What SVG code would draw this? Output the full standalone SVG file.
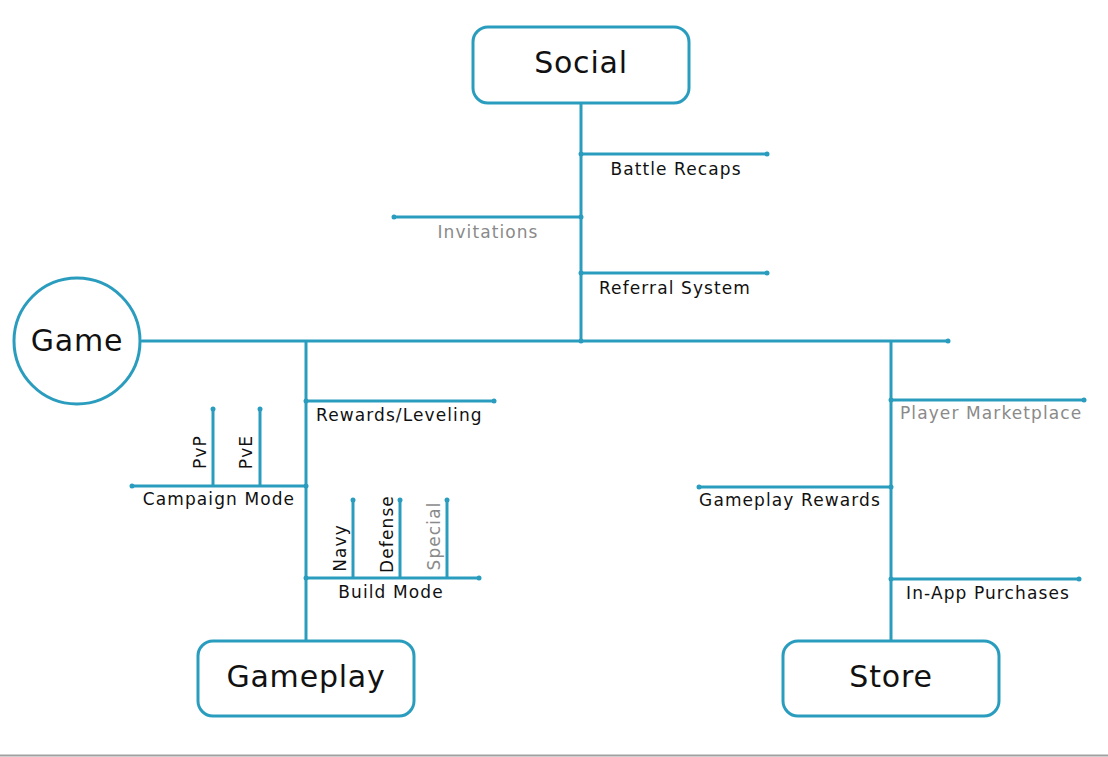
<svg xmlns="http://www.w3.org/2000/svg" width="1108" height="757" viewBox="0 0 1108 757">
<style>
.ln{stroke:#2a9dbf;stroke-width:3;fill:none;stroke-linecap:round}
.dot{fill:#2a9dbf}
.node{fill:#fff;stroke:#2a9dbf;stroke-width:3}
.t{font-family:"DejaVu Sans","Liberation Sans",sans-serif;font-size:17px;letter-spacing:1.1px;fill:#111}
.g{fill:#8a8a8a}
.big{font-family:"DejaVu Sans","Liberation Sans",sans-serif;font-size:30px;letter-spacing:0.8px;fill:#111;text-anchor:middle}
</style>
<rect width="1108" height="757" fill="#fff"/>
<g id="connectors">
<path class="ln" d="M581 103V341M581 154H767M394 217H581M581 273H767M142 341H948M306 341V641M306 401H494M132 486H306M213 409V486M260 409V486M306 578H479M353 500V578M400 500V578M447 500V578M891 341V641M891 400H1084M699 487H891M891 579H1079"/>
<g class="dot">
<circle cx="767" cy="154" r="2.5"/><circle cx="394" cy="217" r="2.5"/><circle cx="767" cy="273" r="2.5"/><circle cx="948" cy="341" r="2.5"/>
<circle cx="494" cy="401" r="2.5"/><circle cx="132" cy="486" r="2.5"/><circle cx="213" cy="409" r="2.5"/><circle cx="260" cy="409" r="2.5"/>
<circle cx="479" cy="578" r="2.5"/><circle cx="353" cy="500" r="2.5"/><circle cx="400" cy="500" r="2.5"/><circle cx="447" cy="500" r="2.5"/>
<circle cx="1084" cy="400" r="2.5"/><circle cx="699" cy="487" r="2.5"/><circle cx="1079" cy="579" r="2.5"/>
<circle cx="581" cy="154" r="2.5"/><circle cx="581" cy="217" r="2.5"/><circle cx="581" cy="273" r="2.5"/><circle cx="581" cy="341" r="2.5"/>
<circle cx="306" cy="401" r="2.5"/><circle cx="306" cy="486" r="2.5"/><circle cx="306" cy="578" r="2.5"/><circle cx="891" cy="400" r="2.5"/><circle cx="891" cy="487" r="2.5"/><circle cx="891" cy="579" r="2.5"/>
</g>
</g>
<g id="labels">
<text class="t" x="676" y="175" text-anchor="middle">Battle Recaps</text>
<text class="t g" x="488" y="238" text-anchor="middle">Invitations</text>
<text class="t" x="675" y="294" text-anchor="middle">Referral System</text>
<text class="t" x="316" y="421">Rewards/Leveling</text>
<text class="t" x="219" y="505" text-anchor="middle">Campaign Mode</text>
<text class="t" transform="translate(206 452) rotate(-90)" text-anchor="middle">PvP</text>
<text class="t" transform="translate(252 452) rotate(-90)" text-anchor="middle">PvE</text>
<text class="t" x="391" y="598" text-anchor="middle">Build Mode</text>
<text class="t" transform="translate(346 548) rotate(-90)" text-anchor="middle">Navy</text>
<text class="t" transform="translate(393 534) rotate(-90)" text-anchor="middle">Defense</text>
<text class="t g" transform="translate(440 536) rotate(-90)" text-anchor="middle">Special</text>
<text class="t g" x="900" y="419">Player Marketplace</text>
<text class="t" x="790" y="506" text-anchor="middle">Gameplay Rewards</text>
<text class="t" x="988" y="599" text-anchor="middle">In-App Purchases</text>
</g>
<g id="social"><rect class="node" x="473" y="27" width="216" height="76" rx="15"/><text class="big" x="581" y="73">Social</text></g>
<g id="game"><circle class="node" cx="77" cy="341" r="63"/><text class="big" x="77" y="351">Game</text></g>
<g id="gameplay"><rect class="node" x="198" y="641" width="216" height="75" rx="15"/><text class="big" x="306" y="687">Gameplay</text></g>
<g id="store"><rect class="node" x="783" y="641" width="216" height="75" rx="15"/><text class="big" x="891" y="687">Store</text></g>
<line x1="0" y1="755.5" x2="1108" y2="755.5" stroke="#a0a0a0" stroke-width="2"/>
</svg>
